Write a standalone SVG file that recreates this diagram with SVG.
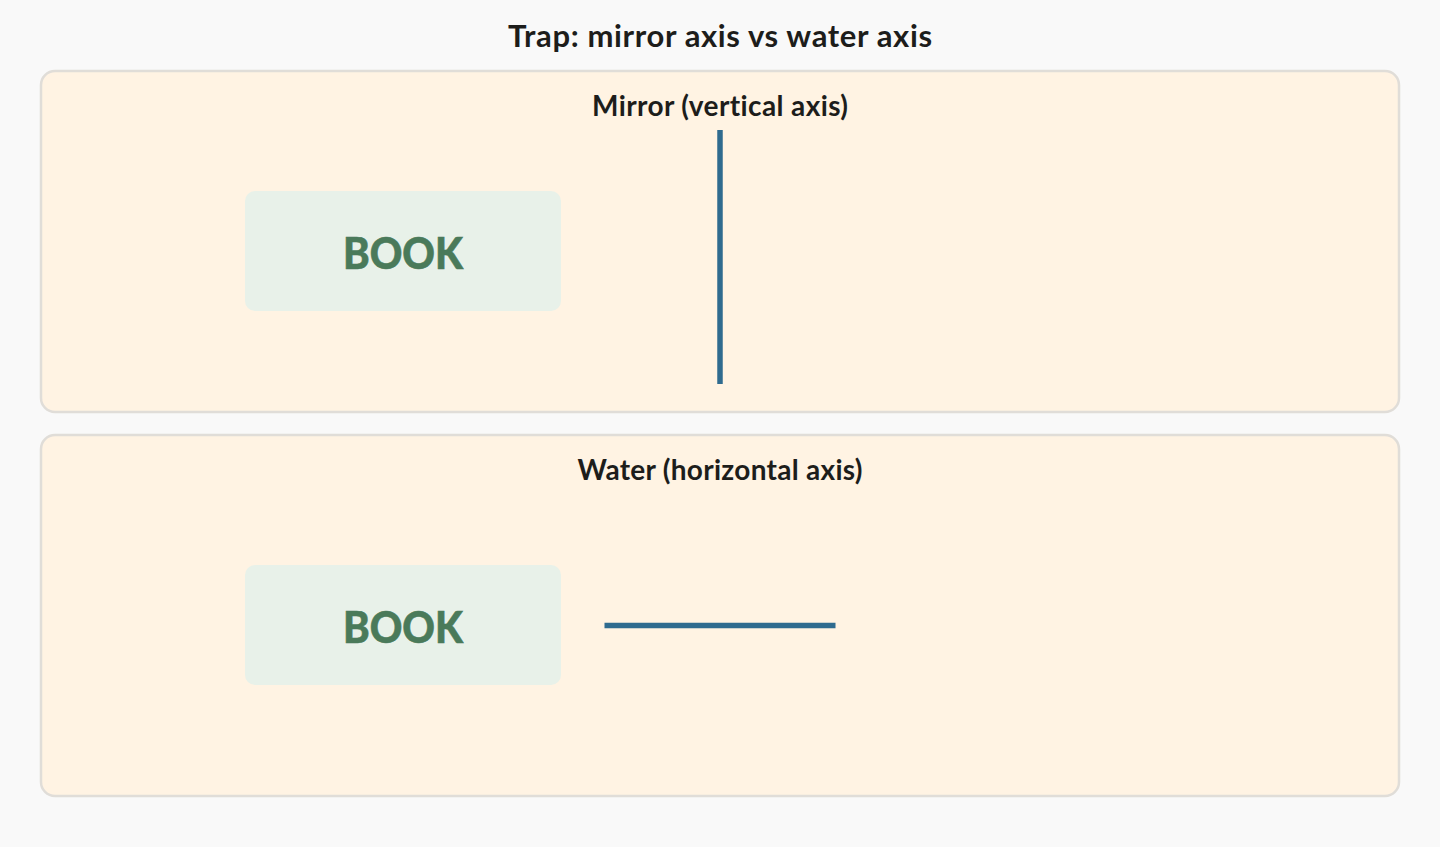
<svg xmlns="http://www.w3.org/2000/svg" width="1440" height="847" viewBox="0 0 1440 847">
<style>
text{font-variant-ligatures:none;font-feature-settings:"liga" 0,"clig" 0,"dlig" 0}
.panel{fill:#fff3e3;stroke:#e0ddd8;stroke-width:2.5}
.book{fill:#e8f1e9}
.booktxt{font-family:Lato,"Liberation Sans",sans-serif;font-weight:900;font-size:44px;fill:#4a7a5a;stroke:#4a7a5a;stroke-width:0.6;text-anchor:middle}
.ptitle{font-family:Lato,"Liberation Sans",sans-serif;font-weight:700;font-size:28px;fill:#1d1d1b;text-anchor:middle}
.title{font-family:Lato,"Liberation Sans",sans-serif;font-weight:700;font-size:31px;fill:#1d1d1b;text-anchor:middle}
.axis{stroke:#2f6b8f;stroke-width:5.5;fill:none}
</style>
<rect width="1440" height="847" fill="#f9f9f9"/>
<text class="title" x="720" y="46.5" textLength="424" lengthAdjust="spacing">Trap: mirror axis vs water axis</text>
<g id="panel-mirror">
<rect class="panel" x="41" y="71" width="1358" height="341" rx="14"/>
<text class="ptitle" x="720" y="116" textLength="256" lengthAdjust="spacing">Mirror (vertical axis)</text>
</g>
<g id="panel-water">
<rect class="panel" x="41" y="435" width="1358" height="361" rx="14"/>
<text class="ptitle" x="720" y="479.5" textLength="285" lengthAdjust="spacing">Water (horizontal axis)</text>
</g>
<g id="book-mirror">
<rect class="book" x="245" y="191" width="316" height="120" rx="10"/>
<text class="booktxt" x="403" y="269" textLength="120" lengthAdjust="spacingAndGlyphs">BOOK</text>
</g>
<g id="book-water">
<rect class="book" x="245" y="565" width="316" height="120" rx="10"/>
<text class="booktxt" x="403" y="643" textLength="120" lengthAdjust="spacingAndGlyphs">BOOK</text>
</g>
<g id="axes">
<line class="axis" x1="720" y1="130" x2="720" y2="384"/>
<line class="axis" x1="604.5" y1="625.5" x2="835.5" y2="625.5"/>
</g>
</svg>
